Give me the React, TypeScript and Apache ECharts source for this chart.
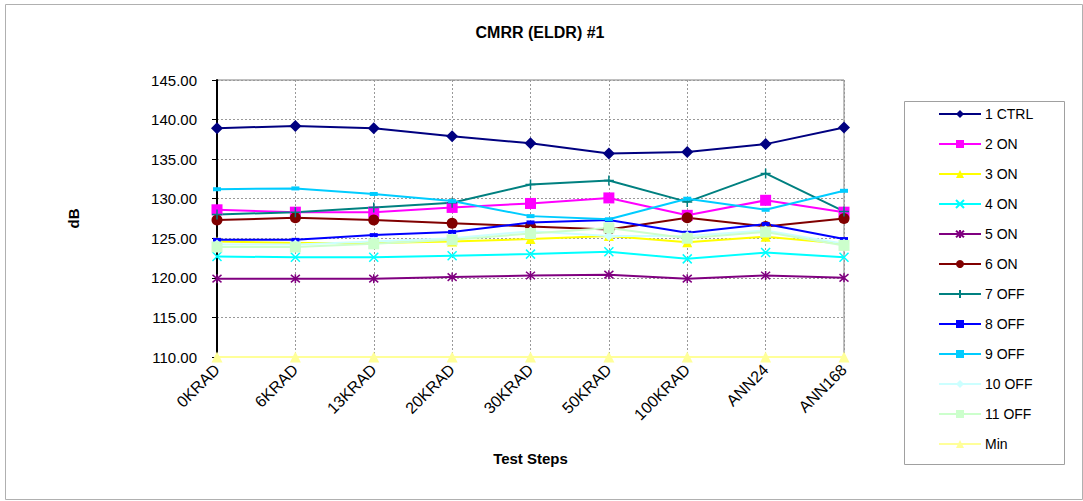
import React, { useEffect, useRef } from "react";
import * as echarts from "echarts";

const categories = ["0KRAD", "6KRAD", "13KRAD", "20KRAD", "30KRAD", "50KRAD", "100KRAD", "ANN24", "ANN168"];

const s1Ctrl = [138.9, 139.2, 138.9, 137.9, 137.0, 135.7, 135.9, 136.9, 139.0];
const s2On = [128.6, 128.3, 128.3, 128.9, 129.4, 130.1, 127.9, 129.8, 128.3];
const s3On = [124.6, 124.4, 124.4, 124.6, 124.9, 125.3, 124.5, 125.2, 124.3];
const s4On = [122.7, 122.6, 122.6, 122.8, 123.0, 123.3, 122.4, 123.2, 122.6];
const s5On = [119.9, 119.9, 119.9, 120.1, 120.3, 120.4, 119.9, 120.3, 120.0];
const s6On = [127.3, 127.6, 127.3, 126.9, 126.5, 126.1, 127.6, 126.5, 127.5];
const s7Off = [128.0, 128.3, 128.9, 129.5, 131.8, 132.3, 129.6, 133.2, 128.4];
const s8Off = [124.8, 124.8, 125.4, 125.8, 127.0, 127.3, 125.7, 126.8, 124.9];
const s9Off = [131.2, 131.3, 130.6, 129.7, 127.8, 127.4, 130.0, 128.6, 131.0];
const s10Off = [124.2, 124.2, 124.6, 125.0, 125.9, 125.3, 125.3, 126.0, 124.3];
const s11Off = [123.9, 123.9, 124.3, 124.8, 125.6, 126.3, 125.0, 125.8, 124.1];
const sMin = [110, 110, 110, 110, 110, 110, 110, 110, 110];

const yTicks = { min: 110, max: 145, interval: 5 };

const FONT = "'Liberation Sans', Arial, sans-serif";

const X_PATH = "path://M0,0L10,10M10,0L0,10";
const STAR_PATH = "path://M0,0L10,10M10,0L0,10M5,-1L5,11";
const PLUS_PATH = "path://M5,0L5,10M0,5L10,5";

function mk(name: string, data: number[], color: string, symbol: string, size: any, stroke = false) {
  return {
    name,
    type: "line",
    data,
    symbol,
    symbolSize: size,
    showSymbol: true,
    lineStyle: { color, width: 2 },
    itemStyle: stroke
      ? { color: color, borderColor: color, borderWidth: 1.5 }
      : { color },
    emphasis: { disabled: true },
  };
}

export default function App() {
  const ref = useRef<HTMLDivElement>(null);
  useEffect(() => {
    if (!ref.current) return;
    const chart = echarts.init(ref.current, null, { renderer: "svg" });
    const series = [
      mk("1 CTRL", s1Ctrl, "#000080", "diamond", 12),
      mk("2 ON", s2On, "#FF00FF", "rect", 11),
      mk("3 ON", s3On, "#FFFF00", "triangle", 10),
      mk("4 ON", s4On, "#00FFFF", X_PATH, 9, true),
      mk("5 ON", s5On, "#800080", STAR_PATH, 9, true),
      mk("6 ON", s6On, "#800000", "circle", 11),
      mk("7 OFF", s7Off, "#008080", PLUS_PATH, 10, true),
      mk("8 OFF", s8Off, "#0000FF", "rect", [8, 4]),
      mk("9 OFF", s9Off, "#00CCFF", "rect", [8, 4]),
      mk("10 OFF", s10Off, "#CCFFFF", "diamond", 10),
      mk("11 OFF", s11Off, "#CCFFCC", "rect", 11),
      mk("Min", sMin, "#FFFF99", "triangle", 11),
    ];
    chart.setOption({
      animation: false,
      backgroundColor: "#ffffff",
      title: {
        text: "CMRR (ELDR) #1",
        left: 540,
        top: 24,
        padding: 0,
        textAlign: "center",
        textStyle: { fontFamily: FONT, fontSize: 16, fontWeight: "bold", color: "#000" },
      },
      grid: {
        left: 217,
        right: 1083 - 844,
        top: 80,
        bottom: 501 - 357,
        show: true,
        borderColor: "#808080",
        borderWidth: 1,
        backgroundColor: "transparent",
      },
      legend: {
        orient: "vertical",
        left: 938,
        top: 107,
        padding: 0,
        itemWidth: 42,
        itemHeight: 10,
        itemGap: 16,
        textStyle: { fontFamily: FONT, fontSize: 14, color: "#000", lineHeight: 14, padding: [0, 0, 0, -1] },
        data: series.map((s) => s.name),
        selectedMode: false,
      },
      xAxis: {
        type: "category",
        data: categories,
        boundaryGap: false,
        name: "Test Steps",
        nameLocation: "middle",
        nameGap: 94,
        nameTextStyle: { fontFamily: FONT, fontSize: 15, fontWeight: "bold", color: "#000" },
        axisLine: { show: true, lineStyle: { color: "#808080", width: 1 } },
        axisTick: { show: true, length: 5, lineStyle: { color: "#808080" } },
        axisLabel: {
          rotate: 45,
          margin: 10,
          fontFamily: FONT,
          fontSize: 16,
          color: "#000",
          interval: 0,
        },
        splitLine: { show: true, lineStyle: { color: "#999", type: [2, 2], width: 1 } },
      },
      yAxis: {
        type: "value",
        min: yTicks.min,
        max: yTicks.max,
        interval: yTicks.interval,
        name: "dB",
        nameLocation: "middle",
        nameGap: 136,
        nameRotate: 90,
        nameTextStyle: { fontFamily: FONT, fontSize: 15, fontWeight: "bold", color: "#000" },
        axisLine: { show: true, lineStyle: { color: "#000", width: 2 } },
        axisTick: { show: true, length: 5, lineStyle: { color: "#000" } },
        axisLabel: {
          margin: 20,
          fontFamily: FONT,
          fontSize: 15,
          color: "#000",
          formatter: (v: number) => v.toFixed(2),
        },
        splitLine: { show: true, lineStyle: { color: "#999", type: [2, 2], width: 1 } },
      },
      graphic: [
        {
          type: "rect",
          left: 3,
          top: 2,
          shape: { width: 1077, height: 495 },
          style: { fill: "none", stroke: "#b0b0b0", lineWidth: 1 },
          silent: true,
          z: -1,
        },
        {
          type: "rect",
          left: 902,
          top: 99,
          shape: { width: 160, height: 363 },
          style: { fill: "none", stroke: "#a0a0a0", lineWidth: 1 },
          silent: true,
        },
      ],
      series,
    });
    return () => chart.dispose();
  }, []);
  return (
    <div
      ref={ref}
      style={{ position: "fixed", left: 0, top: 0, width: 1083, height: 501 }}
    />
  );
}
